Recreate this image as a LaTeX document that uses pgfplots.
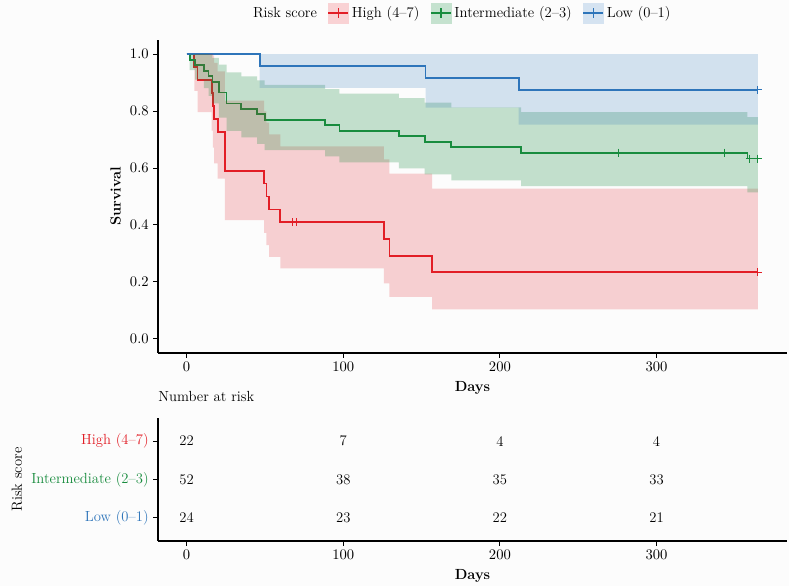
\documentclass[border=0pt]{standalone}
\usepackage{pgfplots}
\pgfplotsset{compat=1.18}
\definecolor{cHigh}{RGB}{226,30,38}
\definecolor{cInt}{RGB}{24,140,62}
\definecolor{cLow}{RGB}{46,117,186}
\definecolor{bgc}{RGB}{252,252,252}
\pgfplotsset{
  kmaxis/.style={
    scale only axis, width=471.75pt,
    xmin=-18.25, xmax=383.25,
    axis x line*=bottom, axis y line*=left,
    axis line style={-, line width=0.9pt},
    xtick={0,100,200,300},
    tick align=outside, major tick length=3.5pt,
    tick style={line width=0.8pt, black},
    font=\fontsize{11}{13}\selectfont,
    xlabel={\textbf{Days}},
  }
}
\begin{document}
\begin{tikzpicture}
\fill[bgc] (0,0) rectangle (591.75pt,439.5pt);
\path[use as bounding box] (0,0) rectangle (591.75pt,439.5pt);

\begin{axis}[kmaxis, at={(118.5pt,174.75pt)}, anchor=south west,
  height=234.75pt, ymin=-0.05, ymax=1.05,
  ytick={0,0.2,0.4,0.6,0.8,1},
  yticklabel style={/pgf/number format/fixed, /pgf/number format/fixed zerofill, /pgf/number format/precision=1},
  ylabel={\textbf{Survival}},
  legend style={at={(0.483,1.086)}, anchor=center, draw=none, fill=none,
    legend columns=-1, /tikz/every even column/.append style={column sep=6pt},
    inner sep=0pt},
  legend cell align=left]
\addlegendimage{empty legend}\addlegendentry{Risk score}
\addlegendimage{legend image code/.code={\fill[cHigh!20] (0pt,-7.5pt) rectangle (15pt,7.5pt); \draw[cHigh, line width=1.3pt] (0pt,0pt)--(15pt,0pt); \draw[cHigh,line width=1pt] (7.5pt,-3.5pt)--(7.5pt,3.5pt);}}
\addlegendentry{High (4--7)}
\addlegendimage{legend image code/.code={\fill[cInt!25] (0pt,-7.5pt) rectangle (15pt,7.5pt); \draw[cInt, line width=1.3pt] (0pt,0pt)--(15pt,0pt); \draw[cInt,line width=1pt] (7.5pt,-3.5pt)--(7.5pt,3.5pt);}}
\addlegendentry{Intermediate (2--3)}
\addlegendimage{legend image code/.code={\fill[cLow!20] (0pt,-7.5pt) rectangle (15pt,7.5pt); \draw[cLow, line width=1.3pt] (0pt,0pt)--(15pt,0pt); \draw[cLow,line width=1pt] (7.5pt,-3.5pt)--(7.5pt,3.5pt);}}
\addlegendentry{Low (0--1)}

% Kaplan-Meier step lines
\addplot[const plot, cHigh, line width=1.4pt, forget plot] coordinates {
(0,1)(5,0.9545)(7,0.9091)(16,0.8636)(16.8,0.8182)(17.5,0.7727)(19.8,0.7273)(24.5,0.5909)(49.5,0.5455)(51,0.5)(52.7,0.4545)(59.8,0.4091)(125.9,0.3506)(129.5,0.2922)(156.8,0.2338)(364.6,0.2338)};
\addplot[const plot, cInt, line width=1.4pt, forget plot] coordinates {
(0,1)(2,0.9808)(5.5,0.9615)(11,0.9423)(14,0.9231)(16.5,0.9038)(20.6,0.8654)(25.5,0.8269)(35,0.8077)(45,0.7885)(49.8,0.7692)(88.5,0.75)(97.6,0.7308)(135.5,0.7115)(152,0.6923)(169,0.6731)(213.6,0.6538)(358,0.6334)(364.6,0.6334)};
\addplot[const plot, cLow, line width=1.4pt, forget plot] coordinates {
(0,1)(46.6,0.9583)(152.5,0.9167)(212,0.875)(364.6,0.875)};

% censor marks
\addplot[only marks, mark=+, mark size=3pt, cHigh, line width=0.9pt, forget plot] coordinates {(67.5,0.4091)(70.4,0.4091)(364.6,0.2338)};
\addplot[only marks, mark=+, mark size=3pt, cInt, line width=0.9pt, forget plot] coordinates {(275.7,0.6538)(343.5,0.6538)(359.5,0.6334)(364.6,0.6334)};
\addplot[only marks, mark=+, mark size=3pt, cLow, line width=0.9pt, forget plot] coordinates {(364.6,0.875)};

% confidence bands
\addplot[fill=cHigh, fill opacity=0.2, draw=none, forget plot] coordinates {
(0,1)(16.8,1)(16.8,0.9963)(17.5,0.9963)(17.5,0.9693)(19.8,0.9693)(19.8,0.9394)(24.5,0.9394)(24.5,0.8366)(49.5,0.8366)(49.5,0.7988)(51,0.7988)(51,0.7594)(52.7,0.7594)(52.7,0.7184)(59.8,0.7184)(59.8,0.6760)(125.9,0.6760)(125.9,0.6302)(129.5,0.6302)(129.5,0.5807)(156.8,0.5807)(156.8,0.528)(364.6,0.528)
(364.6,0.1035)(156.8,0.1035)(156.8,0.1470)(129.5,0.1470)(129.5,0.1951)(125.9,0.1951)(125.9,0.2476)(59.8,0.2476)(59.8,0.2876)(52.7,0.2876)(52.7,0.3292)(51,0.3292)(51,0.3725)(49.5,0.3725)(49.5,0.4174)(24.5,0.4174)(24.5,0.5631)(19.8,0.5631)(19.8,0.6160)(17.5,0.6160)(17.5,0.6719)(16.8,0.6719)(16.8,0.7315)(16,0.7315)(16,0.7966)(7,0.7966)(7,0.8713)(5,0.8713)(5,1)(0,1)};
\addplot[fill=cInt, fill opacity=0.25, draw=none, forget plot] coordinates {
(0,1)(14,1)(14,0.9984)(16.5,0.9984)(16.5,0.9876)(20.6,0.9876)(20.6,0.9633)(25.5,0.9633)(25.5,0.9364)(35,0.9364)(35,0.9222)(45,0.9222)(45,0.9077)(49.8,0.9077)(49.8,0.8927)(88.5,0.8927)(88.5,0.8774)(97.6,0.8774)(97.6,0.8619)(135.5,0.8619)(135.5,0.8459)(152,0.8459)(152,0.8299)(169,0.8299)(169,0.8135)(213.6,0.8135)(213.6,0.7968)(358,0.7968)(358,0.7793)(364.6,0.7793)
(364.6,0.5148)(358,0.5148)(358,0.5365)(213.6,0.5365)(213.6,0.5569)(169,0.5569)(169,0.5776)(152,0.5776)(152,0.5985)(135.5,0.5985)(135.5,0.6196)(97.6,0.6196)(97.6,0.6411)(88.5,0.6411)(88.5,0.6628)(49.8,0.6628)(49.8,0.6849)(45,0.6849)(45,0.7074)(35,0.7074)(35,0.7303)(25.5,0.7303)(25.5,0.7775)(20.6,0.7775)(20.6,0.8271)(16.5,0.8271)(16.5,0.8534)(14,0.8534)(14,0.8810)(11,0.8810)(11,0.9106)(5.5,0.9106)(5.5,0.9442)(2,0.9442)(2,1)(0,1)};
\addplot[fill=cLow, fill opacity=0.2, draw=none, forget plot] coordinates {
(0,1)(364.6,1)(364.6,0.7522)(212,0.7522)(212,0.8125)(152.5,0.8125)(152.5,0.8816)(46.6,0.8816)(46.6,1)(0,1)};
\end{axis}

\begin{axis}[kmaxis, at={(118.5pt,33.75pt)}, anchor=south west,
  height=92.25pt, ymin=0.4, ymax=3.6,
  ytick={1,2,3},
  yticklabels={\textcolor{cLow}{Low (0--1)}, \textcolor{cInt}{Intermediate (2--3)}, \textcolor{cHigh}{High (4--7)}},
  ylabel={Risk score},
  title={Number at risk},
  title style={at={(0,1)}, anchor=south west, inner sep=0pt, yshift=6pt}]
\addplot[only marks, mark=none, nodes near coords, point meta=explicit symbolic,
  every node near coord/.append style={anchor=center}] table[meta=n] {
x y n
0 3 22
100 3 7
200 3 4
300 3 4
0 2 52
100 2 38
200 2 35
300 2 33
0 1 24
100 1 23
200 1 22
300 1 21
};
\end{axis}
\end{tikzpicture}
\end{document}
